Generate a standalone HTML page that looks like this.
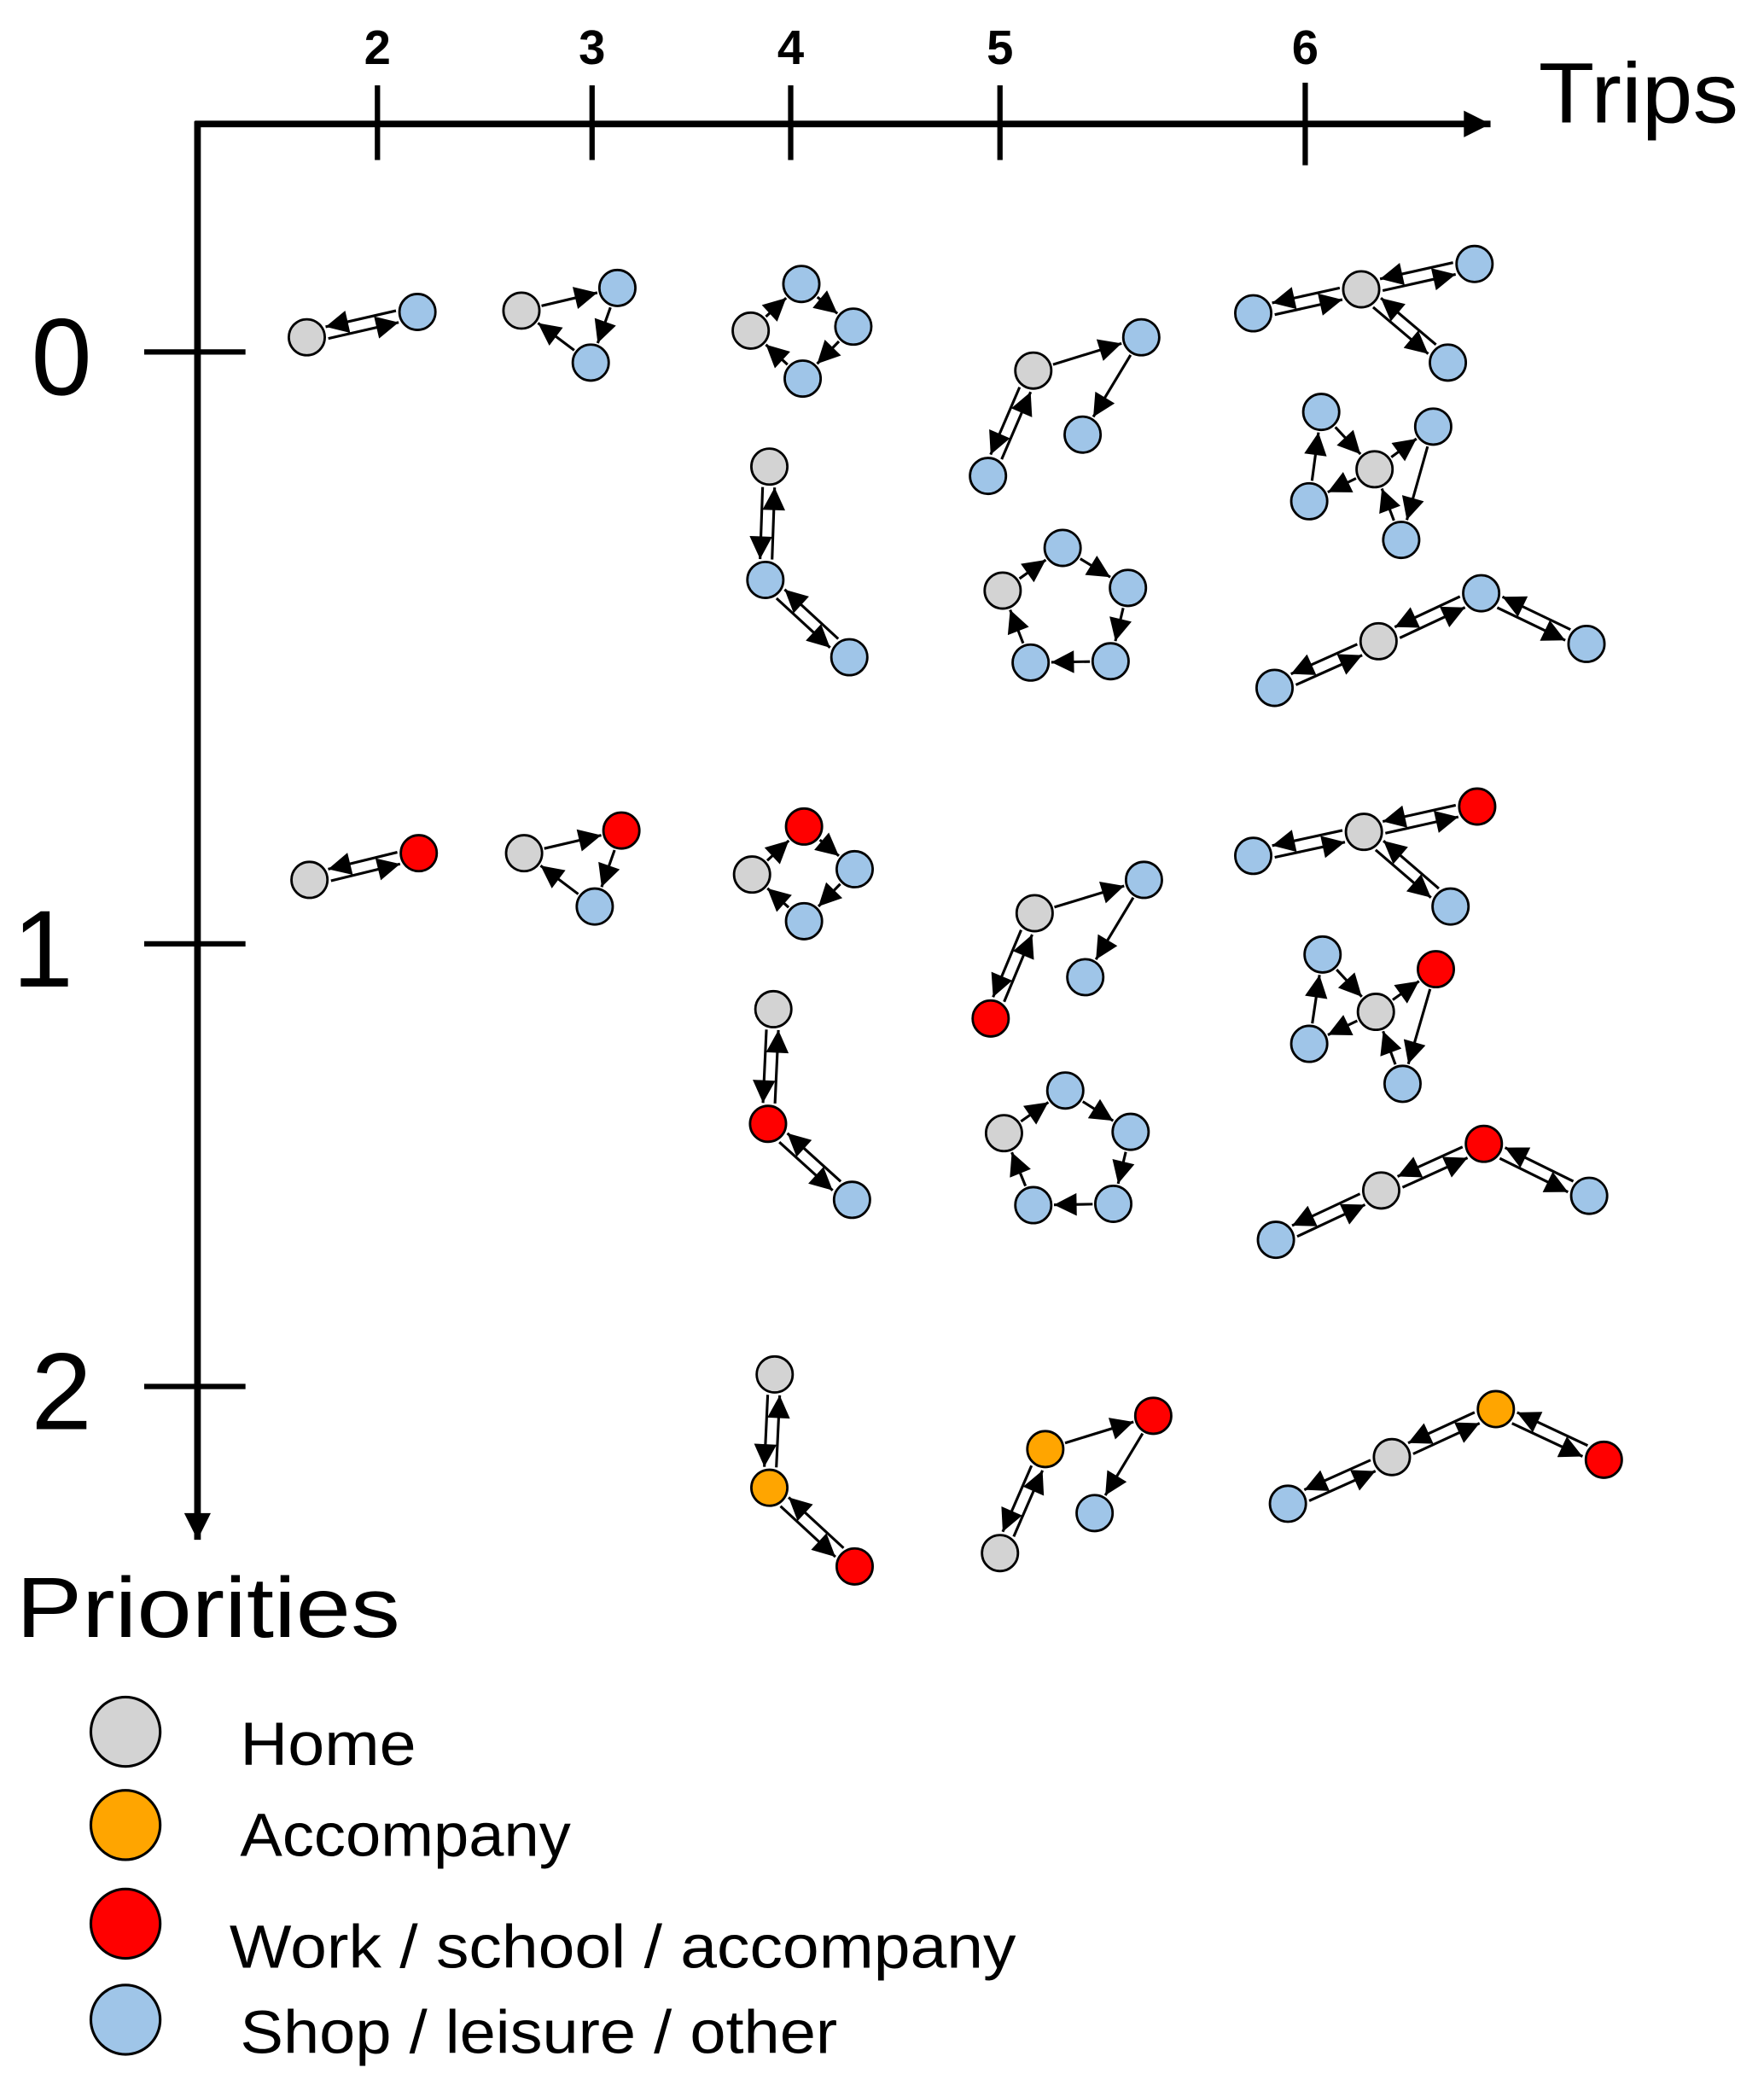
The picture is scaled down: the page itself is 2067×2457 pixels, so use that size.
<!DOCTYPE html>
<html><head><meta charset="utf-8"><style>
html,body{margin:0;padding:0;background:#fff}
svg{display:block}
text{font-family:"Liberation Sans",sans-serif;fill:#000}
</style></head><body>
<svg id="chart" width="2067" height="2457" viewBox="0 0 1323 1573" xmlns="http://www.w3.org/2000/svg">
<defs>
<marker id="ah" viewBox="0 0 10 10" refX="10" refY="5" markerWidth="20" markerHeight="17" markerUnits="userSpaceOnUse" orient="auto"><path d="M0,0 L10,5 L0,10 z" fill="#000"/></marker>
<marker id="axh" viewBox="0 0 10 10" refX="10" refY="5" markerWidth="22" markerHeight="20" markerUnits="userSpaceOnUse" orient="auto"><path d="M0,0 L10,5 L0,10 z" fill="#000"/></marker>
</defs>
<g>
<line x1="146" y1="93" x2="1118" y2="93" stroke="#000" stroke-width="5" marker-end="url(#axh)"/>
<text x="1154" y="92" font-size="64" textLength="150" lengthAdjust="spacingAndGlyphs">Trips</text>
</g>
<g>
<line x1="148" y1="91" x2="148" y2="1155" stroke="#000" stroke-width="5" marker-end="url(#axh)"/>
<text x="12" y="1228" font-size="64" textLength="288" lengthAdjust="spacingAndGlyphs">Priorities</text>
</g>
<g id="xticks"></g>
<g id="yticks"></g>
<g id="edges"></g>
<g id="nodes"></g>
<g>
<circle cx="94" cy="1299" r="26" fill="#d3d3d3" stroke="#000" stroke-width="2"/>
<text x="180" y="1324" font-size="46" textLength="132" lengthAdjust="spacingAndGlyphs">Home</text>
<circle cx="94" cy="1369" r="26" fill="#ffa500" stroke="#000" stroke-width="2"/>
<text x="180" y="1392" font-size="46" textLength="248" lengthAdjust="spacingAndGlyphs">Accompany</text>
<circle cx="94" cy="1443" r="26" fill="#ff0000" stroke="#000" stroke-width="2"/>
<text x="172" y="1476" font-size="46" textLength="590" lengthAdjust="spacingAndGlyphs">Work /  school / accompany</text>
<circle cx="94" cy="1515" r="26" fill="#9fc5e8" stroke="#000" stroke-width="2"/>
<text x="180" y="1540" font-size="46" textLength="448" lengthAdjust="spacingAndGlyphs">Shop / leisure / other</text>
</g>
</svg>
<script>
const NS="http://www.w3.org/2000/svg";
const tripTicks=[2,3,4,5,6];
const tripTickX=[283,444,593,750,979];
const priorityTicks=[0,1,2];
const priorityTickY=[264,708,1040];
const colors={H:"#d3d3d3",A:"#ffa500",W:"#ff0000",S:"#9fc5e8"};
const motifNodes=[
[[230,253,"H"],[313,234,"S"]],
[[391,233,"H"],[463,216,"S"],[443,272,"S"]],
[[563,248,"H"],[601,213,"S"],[640,245,"S"],[602,284,"S"]],
[[577,350,"H"],[574,435,"S"],[637,493,"S"]],
[[775,278,"H"],[856,253,"S"],[812,326,"S"],[741,357,"S"]],
[[752,443,"H"],[797,411,"S"],[846,441,"S"],[833,496,"S"],[773,497,"S"]],
[[940,235,"S"],[1021,217,"H"],[1106,198,"S"],[1086,272,"S"]],
[[1031,352,"H"],[991,309,"S"],[1075,320,"S"],[982,376,"S"],[1051,405,"S"]],
[[956,516,"S"],[1034,481,"H"],[1111,445,"S"],[1190,483,"S"]],
[[232,660,"H"],[314,640,"W"]],
[[393,640,"H"],[466,623,"W"],[446,680,"S"]],
[[564,656,"H"],[603,620,"W"],[641,652,"S"],[603,691,"S"]],
[[580,757,"H"],[576,843,"W"],[639,900,"S"]],
[[776,685,"H"],[858,660,"S"],[814,733,"S"],[743,764,"W"]],
[[753,850,"H"],[799,818,"S"],[848,849,"S"],[835,903,"S"],[775,904,"S"]],
[[940,642,"S"],[1023,624,"H"],[1108,605,"W"],[1088,680,"S"]],
[[1032,759,"H"],[992,716,"S"],[1077,727,"W"],[982,783,"S"],[1052,813,"S"]],
[[957,930,"S"],[1036,893,"H"],[1113,858,"W"],[1192,897,"S"]],
[[581,1031,"H"],[577,1116,"A"],[641,1175,"W"]],
[[784,1087,"A"],[865,1062,"W"],[821,1135,"S"],[750,1165,"H"]],
[[966,1128,"S"],[1044,1093,"H"],[1122,1057,"A"],[1203,1095,"W"]]
];
const motifEdges=[
[[0,1,1]],
[[0,1,0],[1,2,0],[2,0,0]],
[[0,1,0],[1,2,0],[2,3,0],[3,0,0]],
[[0,1,1],[1,2,1]],
[[0,1,0],[1,2,0],[0,3,1]],
[[0,1,0],[1,2,0],[2,3,0],[3,4,0],[4,0,0]],
[[0,1,1],[1,2,1],[1,3,1]],
[[1,0,0],[0,2,0],[2,4,0],[4,0,0],[0,3,0],[3,1,0]],
[[0,1,1],[1,2,1],[2,3,1]],
[[0,1,1]],
[[0,1,0],[1,2,0],[2,0,0]],
[[0,1,0],[1,2,0],[2,3,0],[3,0,0]],
[[0,1,1],[1,2,1]],
[[0,1,0],[1,2,0],[0,3,1]],
[[0,1,0],[1,2,0],[2,3,0],[3,4,0],[4,0,0]],
[[0,1,1],[1,2,1],[1,3,1]],
[[1,0,0],[0,2,0],[2,4,0],[4,0,0],[0,3,0],[3,1,0]],
[[0,1,1],[1,2,1],[2,3,1]],
[[0,1,1],[1,2,1]],
[[0,1,0],[1,2,0],[3,0,1]],
[[0,1,1],[1,2,1],[2,3,1]]
];
const xt=document.getElementById('xticks');
tripTicks.forEach((t,i)=>{
  const x=tripTickX[i];
  const l=document.createElementNS(NS,'line');
  
  
  l.setAttribute('x1',x);l.setAttribute('x2',x);l.setAttribute('y1',i==4?62:64);l.setAttribute('y2',i==4?124:120);
  l.setAttribute('stroke','#000');l.setAttribute('stroke-width','4');xt.appendChild(l);
  const tx=document.createElementNS(NS,'text');
  
  
  tx.setAttribute('x',x);tx.setAttribute('y',48);tx.setAttribute('text-anchor','middle');
  tx.setAttribute('font-size','36');tx.setAttribute('font-weight','bold');tx.textContent=t;xt.appendChild(tx);
});
const yt=document.getElementById('yticks');
priorityTicks.forEach((p,i)=>{
  const y=priorityTickY[i];
  const l=document.createElementNS(NS,'line');
  
  
  l.setAttribute('x1',108);l.setAttribute('x2',184);l.setAttribute('y1',y);l.setAttribute('y2',y);
  l.setAttribute('stroke','#000');l.setAttribute('stroke-width','4');yt.appendChild(l);
  const tx=document.createElementNS(NS,'text');
  
  
  tx.setAttribute('x',p==1?32:46);tx.setAttribute('y',y+32);tx.setAttribute('text-anchor','middle');
  tx.setAttribute('font-size','82');tx.textContent=p;yt.appendChild(tx);
});
const eg=document.getElementById('edges'),ng=document.getElementById('nodes');
const R=13.5;
function arrow(a,b,off){
  const dx=b[0]-a[0],dy=b[1]-a[1],d=Math.hypot(dx,dy),ux=dx/d,uy=dy/d;
  const px=-uy*off,py=ux*off,g=R+2;
  const l=document.createElementNS(NS,'line');
  
  
  l.setAttribute('x1',a[0]+ux*g+px);l.setAttribute('y1',a[1]+uy*g+py);
  l.setAttribute('x2',b[0]-ux*g+px);l.setAttribute('y2',b[1]-uy*g+py);
  l.setAttribute('stroke','#000');l.setAttribute('stroke-width','2');
  l.setAttribute('marker-end','url(#ah)');eg.appendChild(l);
}
motifNodes.forEach((nodes,m)=>{
  motifEdges[m].forEach(e=>{
    const a=nodes[e[0]],b=nodes[e[1]];
    if(e[2]){arrow(a,b,4.5);arrow(b,a,4.5);} else arrow(a,b,0);
  });
  nodes.forEach(n=>{
    const c=document.createElementNS(NS,'circle');
    
    
    c.setAttribute('cx',n[0]);c.setAttribute('cy',n[1]);c.setAttribute('r',R);
    c.setAttribute('fill',colors[n[2]]);c.setAttribute('stroke','#000');c.setAttribute('stroke-width','1.8');
    ng.appendChild(c);
  });
});
</script>
</body></html>
